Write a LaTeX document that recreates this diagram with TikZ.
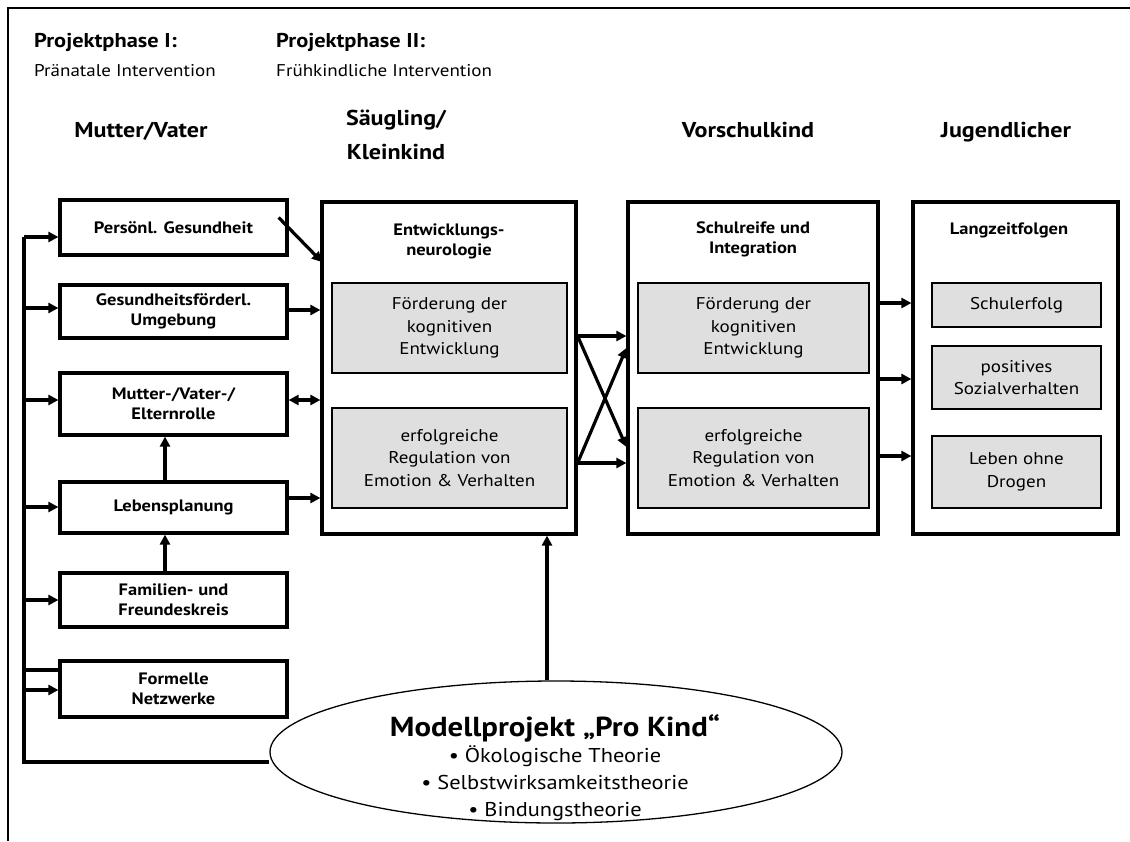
\documentclass[tikz,border=0pt]{standalone}
\usepackage{fontspec}
\setmainfont{PT Sans}[FakeStretch=1.12]
\usetikzlibrary{arrows.meta,shapes.geometric,calc}
\begin{document}
\begin{tikzpicture}[x=1pt,y=-1pt,
  frame/.style={line width=1.4pt},
  leftbox/.style={draw,line width=3.2pt,minimum width=227pt,inner sep=2pt,
    align=center,font=\fontsize{16.5}{20}\selectfont\bfseries},
  bigbox/.style={draw,line width=3.2pt,inner sep=0pt},
  graybox/.style={draw,line width=1.3pt,fill=gray!25,inner sep=2pt,
    align=center,font=\fontsize{17}{22.5}\selectfont},
  boxtitle/.style={align=center,font=\fontsize{16.5}{20}\selectfont\bfseries},
  phase/.style={anchor=base west,font=\fontsize{20}{24}\selectfont\bfseries,inner sep=0pt},
  phasesub/.style={anchor=base west,font=\fontsize{17}{20}\selectfont,inner sep=0pt},
  stage/.style={anchor=base,align=center,font=\fontsize{21.5}{34}\selectfont\bfseries,inner sep=0pt},
  wire/.style={line width=3.2pt},
  tip/.tip={Triangle[length=10pt,width=10pt]},
  arr/.style={line width=3.2pt,-tip},
  darr/.style={line width=3.2pt,tip-tip}]

\useasboundingbox (0,0) rectangle (1130,841);

% outer frame (top and left edges only)
\draw[frame] (8,841) -- (8,8) -- (1130,8);

% headings
\node[phase] (ph1) at (34,47) {Projektphase I:};
\node[phasesub] (ph1s) at (34,76) {Pränatale Intervention};
\node[phase] (ph2) at (276,47) {Projektphase II:};
\node[phasesub] (ph2s) at (276,76) {Frühkindliche Intervention};

\node[stage] (st1) at (141,137) {Mutter/Vater};
\node[stage] (st2) at (396,159) {Säugling/\\Kleinkind};
\node[stage] (st3) at (748,137) {Vorschulkind};
\node[stage] (st4) at (1006,137) {Jugendlicher};

% parent-side factors
\node[leftbox,minimum height=55pt] (p1) at (173.5,227.5) {Persönl. Gesundheit};
\node[leftbox,minimum height=53pt] (p2) at (173.5,311.5) {Gesundheitsförderl.\\Umgebung};
\node[leftbox,minimum height=62pt] (p3) at (173.5,404) {Mutter-/Vater-/\\Elternrolle};
\node[leftbox,minimum height=51pt] (p4) at (173.5,507.5) {Lebensplanung};
\node[leftbox,minimum height=54pt] (p5) at (173.5,600) {Familien- und\\Freundeskreis};
\node[leftbox,minimum height=56pt] (p6) at (173.5,689) {Formelle\\Netzwerke};

% infant
\node[bigbox,minimum width=254pt,minimum height=332pt] (n) at (449,368) {};
\node[boxtitle] (nt) at (449,241) {Entwicklungs-\\neurologie};
\node[graybox,minimum width=235pt,minimum height=90pt] (n1) at (449.5,328) {Förderung der\\kognitiven\\Entwicklung};
\node[graybox,minimum width=235pt,minimum height=100pt] (n2) at (449.5,458) {erfolgreiche\\Regulation von\\Emotion \& Verhalten};

% preschool child
\node[bigbox,minimum width=250pt,minimum height=332pt] (s) at (753,368) {};
\node[boxtitle] (stt) at (753,239) {Schulreife und\\Integration};
\node[graybox,minimum width=231pt,minimum height=90pt] (s1) at (753.5,328) {Förderung der\\kognitiven\\Entwicklung};
\node[graybox,minimum width=231pt,minimum height=100pt] (s2) at (753.5,458) {erfolgreiche\\Regulation von\\Emotion \& Verhalten};

% adolescent
\node[bigbox,minimum width=205pt,minimum height=332pt] (l) at (1015.5,368) {};
\node[boxtitle] (lt) at (1009,230) {Langzeitfolgen};
\node[graybox,minimum width=169pt,minimum height=44pt] (l1) at (1016.5,305) {Schulerfolg};
\node[graybox,minimum width=169pt,minimum height=63pt] (l2) at (1016.5,377.5) {positives\\Sozialverhalten};
\node[graybox,minimum width=169pt,minimum height=72pt] (l3) at (1016.5,472) {Leben ohne\\Drogen};

% model project
\node[draw,ellipse,line width=1.3pt,minimum width=572pt,minimum height=142pt,inner sep=0pt] (e) at (556,752) {};
\node[align=center,inner sep=0pt,font=\fontsize{20}{27}\selectfont] (et) at (555,768)
  {{\fontsize{27.5}{30}\selectfont\bfseries Modellprojekt „Pro Kind“}\\[-1pt]
   • Ökologische Theorie\\
   • Selbstwirksamkeitstheorie\\
   • Bindungstheorie};

% feedback bus on the left
\coordinate (b1) at (24,237);
\coordinate (b2) at (24,308);
\coordinate (b3) at (24,400);
\coordinate (b4) at (24,507);
\coordinate (b5) at (24,600);
\coordinate (b6a) at (24,670);
\coordinate (b6) at (24,690);
\coordinate (bb) at (24,762);
\draw[wire] (b1) -- (bb) -- (bb -| e.west);
\draw[arr] (b1) -- (b1 -| p1.west);
\draw[arr] (b2) -- (b2 -| p2.west);
\draw[arr] (b3) -- (b3 -| p3.west);
\draw[arr] (b4) -- (b4 -| p4.west);
\draw[arr] (b5) -- (b5 -| p5.west);
\draw[wire] (b6a) -- (b6a -| p6.west);
\draw[arr] (b6) -- (b6 -| p6.west);

% vertical links among parent factors
\coordinate (v4) at (165,0);
\draw[arr] (v4 |- p4.north) -- (v4 |- p3.south);
\draw[arr] (v4 |- p5.north) -- (v4 |- p4.south);

% parent factors to infant
\coordinate (d1) at ($(p1.east)+(-10,-10)$);
\coordinate (d1e) at (322,262);
\draw[arr] (d1) -- (d1e);
\coordinate (a2) at (0,310);
\draw[arr] (a2 -| p2.east) -- (a2 -| n.west);
\coordinate (a3) at (0,400);
\draw[darr] (a3 -| p3.east) -- (a3 -| n.west);
\coordinate (a4) at (0,498);
\draw[arr] (a4 -| p4.east) -- (a4 -| n.west);

% infant to preschool child
\coordinate (c1) at (0,336);
\coordinate (c2) at (0,463);
\coordinate (c3) at (0,447);
\coordinate (c4) at (0,348);
\draw[arr] (c1 -| n.east) -- (c1 -| s.west);
\draw[arr] (c2 -| n.east) -- (c2 -| s.west);
\draw[arr] (c1 -| n.east) -- (c3 -| s.west);
\draw[arr] (c2 -| n.east) -- (c4 -| s.west);

% preschool child to adolescent
\coordinate (r1) at (0,303);
\coordinate (r2) at (0,379);
\coordinate (r3) at (0,456);
\draw[arr] (r1 -| s.east) -- (r1 -| l.west);
\draw[arr] (r2 -| s.east) -- (r2 -| l.west);
\draw[arr] (r3 -| s.east) -- (r3 -| l.west);

% model project supports the infant
\coordinate (m) at (547,0);
\draw[arr] (m |- e.north) -- (m |- n.south);
\end{tikzpicture}
\end{document}
